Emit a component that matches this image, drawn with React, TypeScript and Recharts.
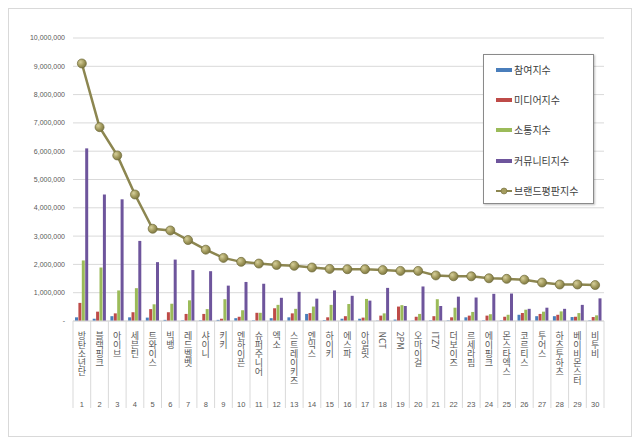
import React from 'react';
import { ComposedChart, Bar, Line, XAxis, YAxis, CartesianGrid, Legend } from 'recharts';

const groupNames = ['방탄소년단','블랙핑크','아이브','세븐틴','트와이스','빅뱅','레드벨벳','샤이니','키키','엔하이픈','슈퍼주니어','엑소','스트레이키즈','엔믹스','하이키','에스파','아일릿','NCT','2PM','오마이걸','ITZY','더보이즈','르세라핌','에이핑크','몬스타엑스','코르티스','투어스','하츠투하츠','베이비몬스터','비투비'];
const rankLabels = [1,2,3,4,5,6,7,8,9,10,11,12,13,14,15,16,17,18,19,20,21,22,23,24,25,26,27,28,29,30];

const participation = [130000,80000,170000,130000,120000,40000,20000,20000,40000,100000,20000,100000,130000,250000,30000,80000,80000,10000,50000,10000,20000,20000,130000,20000,20000,220000,170000,170000,140000,20000];
const media = [640000,330000,270000,310000,420000,310000,250000,250000,80000,150000,290000,450000,270000,280000,130000,170000,120000,190000,510000,150000,170000,130000,190000,190000,150000,280000,250000,220000,150000,140000];
const communication = [2140000,1890000,1080000,1160000,590000,610000,730000,420000,770000,380000,290000,570000,430000,510000,570000,600000,780000,270000,560000,250000,770000,470000,320000,240000,220000,400000,330000,340000,280000,200000];
const community = [6100000,4470000,4300000,2830000,2080000,2170000,1800000,1760000,1250000,1380000,1320000,820000,1030000,790000,1080000,890000,720000,1170000,530000,1220000,530000,860000,830000,960000,970000,430000,470000,430000,570000,800000];
const brandIndex = [9100000,6850000,5850000,4470000,3260000,3200000,2860000,2520000,2230000,2090000,2030000,1980000,1950000,1890000,1840000,1830000,1830000,1800000,1770000,1770000,1610000,1580000,1580000,1510000,1490000,1460000,1360000,1290000,1290000,1270000];

const yTicks = [0,1000000,2000000,3000000,4000000,5000000,6000000,7000000,8000000,9000000,10000000];

const seriesNames = ['참여지수','미디어지수','소통지수','커뮤니티지수','브랜드평판지수'];
const seriesColors = ['#4A7EBB','#BE4B48','#9BBB59','#6E559C','#8C8650'];

const data = groupNames.map((name, i) => ({
  name,
  rank: rankLabels[i],
  p: participation[i],
  m: media[i],
  c: communication[i],
  u: community[i],
  b: brandIndex[i],
}));

const textGray = '#595959';
const korFont = '"Noto Sans CJK KR", "Noto Sans", sans-serif';
const numFont = '"Liberation Sans", Arial, sans-serif';

const fmt = (v: number) => (v === 0 ? '-' : v.toLocaleString('en-US'));

const CategoryTick = (props: any) => {
  const { x, y, payload, index } = props;
  const half = payload && typeof payload.offset === 'number' && payload.offset > 0 ? payload.offset : 8.85;
  const idx = typeof payload?.index === 'number' ? payload.index : index;
  const label: string = String(payload?.value ?? '');
  return (
    <g>
      <line x1={x - half} x2={x - half} y1={y} y2={y + 87} stroke="#d9d9d9" strokeWidth={1} />
      {idx === groupNames.length - 1 && (
        <line x1={x + half} x2={x + half} y1={y} y2={y + 87} stroke="#d9d9d9" strokeWidth={1} />
      )}
      <text
        x={x}
        y={y + 10.5}
        fontSize={9}
        fontFamily={korFont}
        fill={textGray}
        style={{ writingMode: 'vertical-rl', textOrientation: 'mixed' } as any}
      >
        {label}
      </text>
      <text x={x} y={y + 85.5} textAnchor="middle" fontSize={7.5} fontFamily={numFont} fill={textGray}>
        {rankLabels[idx]}
      </text>
    </g>
  );
};

const LegendBox = () => (
  <div
    style={{
      width: 111,
      height: 150,
      boxSizing: 'border-box',
      border: '1px solid #8a8a8a',
      background: '#fff',
      boxShadow: '1px 1px 2px rgba(0,0,0,0.25)',
      fontFamily: korFont,
      fontSize: 10,
      color: '#404040',
      position: 'relative',
    }}
  >
    {seriesNames.map((n, i) => (
      <div
        key={n}
        style={{ position: 'absolute', left: 12, top: 15 + i * 30.2 - 7, height: 14, display: 'flex', alignItems: 'center' }}
      >
        {i < 4 ? (
          <svg width={17} height={6} style={{ marginRight: 1 }}>
            <rect x={0} y={1} width={16} height={4} fill={seriesColors[i]} />
          </svg>
        ) : (
          <svg width={17} height={8} style={{ marginRight: 1 }}>
            <line x1={0} x2={16} y1={4} y2={4} stroke={seriesColors[4]} strokeWidth={2} />
            <circle cx={8} cy={4} r={3} fill="#A49C5E" stroke="#6f6a3a" strokeWidth={0.6} />
          </svg>
        )}
        <span style={{ lineHeight: '14px', whiteSpace: 'nowrap' }}>{n}</span>
      </div>
    ))}
  </div>
);

export default function App() {
  return (
    <div
      style={{
        width: 624,
        height: 429,
        boxSizing: 'border-box',
        border: '1px solid #d9d9d9',
        background: '#fff',
        position: 'relative',
      }}
    >
      <ComposedChart
        width={622}
        height={427}
        data={data}
        margin={{ top: 29, right: 27, bottom: 20, left: 8 }}
        barSize={3}
        barGap={0.4}
        barCategoryGap="12%"
      >
        <defs>
          <radialGradient id="dotGrad" cx="35%" cy="35%" r="70%">
            <stop offset="0%" stopColor="#d6cf9a" />
            <stop offset="60%" stopColor="#9f975a" />
            <stop offset="100%" stopColor="#7d7743" />
          </radialGradient>
        </defs>
        <CartesianGrid vertical={false} stroke="#d9d9d9" />
        <XAxis
          dataKey="name"
          interval={0}
          tickSize={0}
          tickMargin={0}
          height={95}
          axisLine={{ stroke: '#d9d9d9' }}
          tickLine={false}
          tick={<CategoryTick />}
        />
        <YAxis
          width={56}
          domain={[0, 10000000]}
          ticks={yTicks}
          interval={0}
          axisLine={false}
          tickLine={false}
          tickFormatter={fmt}
          tick={{ fontSize: 7, fill: textGray, fontFamily: numFont }}
        />
        <Legend
          layout="horizontal"
          verticalAlign="middle"
          align="center"
          wrapperStyle={{ left: 474, top: 45, width: 111, height: 150 }}
          content={() => <LegendBox />}
        />
        <Bar dataKey="p" name={seriesNames[0]} fill={seriesColors[0]} isAnimationActive={false} />
        <Bar dataKey="m" name={seriesNames[1]} fill={seriesColors[1]} isAnimationActive={false} />
        <Bar dataKey="c" name={seriesNames[2]} fill={seriesColors[2]} isAnimationActive={false} />
        <Bar dataKey="u" name={seriesNames[3]} fill={seriesColors[3]} isAnimationActive={false} />
        <Line
          type="linear"
          dataKey="b"
          name={seriesNames[4]}
          stroke={seriesColors[4]}
          strokeWidth={2.5}
          dot={{ r: 4.5, fill: 'url(#dotGrad)', stroke: '#6f6a3a', strokeWidth: 0.7 }}
          activeDot={false}
          isAnimationActive={false}
        />
      </ComposedChart>
    </div>
  );
}
